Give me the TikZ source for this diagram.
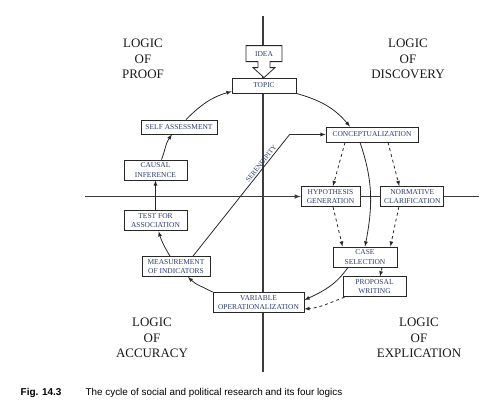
\documentclass[tikz,border=0pt]{standalone}
\usepackage{fontspec}
\setmainfont{Liberation Serif}
\newfontfamily\capfont{Liberation Sans}
\usetikzlibrary{arrows,positioning}
\definecolor{boxtext}{RGB}{45,60,115}
\definecolor{linegray}{RGB}{40,40,40}
\definecolor{axisgray}{RGB}{60,60,60}

\begin{document}
\begin{tikzpicture}[x=1bp,y=1bp,->,>=latex,thick,color=linegray,
  box/.style={draw,fill=white,text=boxtext,font=\fontsize{7.5}{9.5}\selectfont,align=center,minimum width=63bp,minimum height=20bp,inner sep=1bp},
  logic/.style={font=\fontsize{13}{15.5}\selectfont,align=center,text=black!90},
  axisline/.style={-,axisgray,line width=1.1bp}]
  \useasboundingbox (0,0) rectangle (497,-409);
  \coordinate (axisN) at (263,-16);
  \coordinate (axisS) at (263,-372);
  \coordinate (axisW) at (85,-196.5);
  \coordinate (axisE) at (479,-196.5);
  % axes
  \draw[axisline] (axisN) -- (axisS);

  \node[box,minimum width=64bp,minimum height=15bp] (topic) at (264,-85.5) {TOPIC};
  \draw[-,fill=white] (topic.north) -- ++(11bp,10bp) -- ++(-5bp,0) -- ++(0,6bp) -- ++(12bp,0) -- ++(0,16bp) -- ++(-36bp,0) -- ++(0,-16bp) -- ++(12bp,0) -- ++(0,-6bp) -- ++(-5bp,0) -- cycle;
  \node[text=boxtext,font=\fontsize{7.5}{9.5}\selectfont] (idea) at (264,-54) {IDEA};
  \node[box,minimum width=76bp,minimum height=14bp] (self) at (179,-127) {SELF ASSESSMENT};
  \node[box] (causal) at (155.5,-170) {CAUSAL\\INFERENCE};
  \node[box] (test) [below=30bp of causal] {TEST FOR\\ASSOCIATION};
  \node[box,minimum width=68bp] (meas) at (176,-266.5) {MEASUREMENT\\OF INDICATORS};
  \node[box,minimum width=91bp] (var) at (258.5,-302.5) {VARIABLE\\OPERATIONALIZATION};
  \node[box,minimum width=92bp,minimum height=15bp] (concept) at (372,-134.5) {CONCEPTUALIZATION};
  \node[box,minimum width=59bp] (hyp) at (330.5,-196.5) {HYPOTHESIS\\GENERATION};
  \node[box] (norm) [right=20bp of hyp] {NORMATIVE\\CLARIFICATION};
  \node[box,minimum width=64bp] (case) at (365,-257) {CASE\\SELECTION};
  \node[box] (prop) [below=9bp of case,xshift=9.5bp] {PROPOSAL\\WRITING};
  \coordinate[left=36bp of concept] (serend);

  \node[logic] (proof) at (143,-59) {LOGIC\\OF\\PROOF};
  \node[logic] (discovery) at (408,-59) {LOGIC\\OF\\DISCOVERY};
  \node[logic] (accuracy) at (152,-338) {LOGIC\\OF\\ACCURACY};
  \node[logic] (explication) at (419,-338) {LOGIC\\OF\\EXPLICATION};

  \node[anchor=base west,text=black,font=\capfont\bfseries\fontsize{10}{12}\selectfont] (fig) at (17,-395) {Fig. 14.3};
  \node[anchor=base west,text=black,font=\capfont\fontsize{9.9}{12}\selectfont] (caption) at (82,-395) {The cycle of social and political research and its four logics};

  \draw[axisline,->] (axisW) -- (hyp.west);
  \draw[axisline] (hyp.east) -- (norm.west) (norm.east) -- (axisE);

  \path (topic.south east) edge[out=-16,in=130] ([xshift=-22bp]concept.north)
  ([xshift=7bp]self.north) edge[out=45,in=196] ([yshift=2bp]topic.south west)
  ([xshift=6bp]causal.north) edge[out=69,in=234] ([xshift=-7bp]self.south)
  (test) edge (causal)
  ([xshift=-6bp]meas.north) edge[out=121,in=-73] ([xshift=3bp]test.south)
  (var.north west) edge[out=151,in=-45] ([xshift=12bp]meas.south)
  ([xshift=-12bp]concept.south) edge[out=-71,in=79] (case.north)
  ([xshift=-17bp]case.south) edge[out=-125,in=25] ([yshift=2.5bp]var.east)
  ([xshift=-27bp]concept.south) edge[dashed] ([xshift=2.5bp]hyp.north)
  ([xshift=16bp]concept.south) edge[dashed] ([xshift=-13bp]norm.north)
  ([xshift=2.5bp]hyp.south) edge[dashed] ([xshift=10bp]case.north west)
  ([xshift=-13.5bp]norm.south) edge[dashed] ([xshift=-7bp]case.north east)
  ([xshift=17bp]case.south) edge[dashed] ([xshift=5.5bp]prop.north)
  ([xshift=2bp]prop.south west) edge[dashed,out=-160,in=5] ([yshift=-6.5bp]var.east);

  \draw ([xshift=17bp]meas.north) -- node[sloped,above,pos=0.74,inner sep=1.5bp,text=boxtext,font=\fontsize{7}{8}\selectfont] {SERENDIPITY} (serend) -- (concept.west);
\end{tikzpicture}
\end{document}
